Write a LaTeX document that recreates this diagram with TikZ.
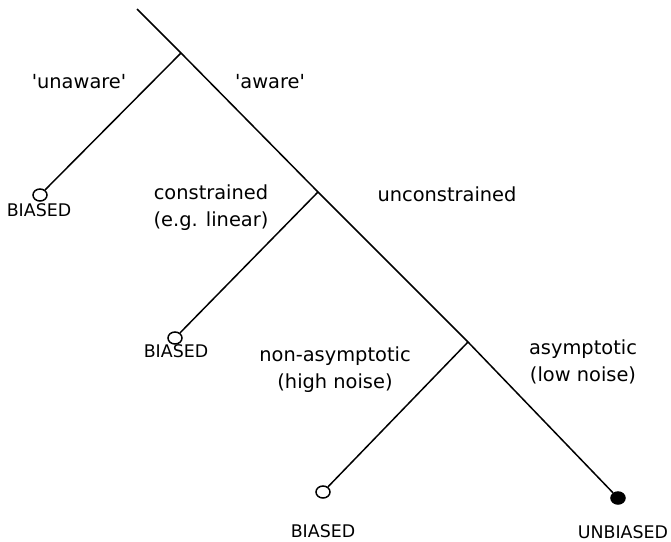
\documentclass[tikz,border=0pt]{standalone}
\usepackage{fontspec}
\setmainfont{DejaVu Sans}
\usetikzlibrary{shapes.geometric}

\begin{document}
\begin{tikzpicture}[x=0.5pt, y=-0.5pt,
    branch/.style={line width=0.75pt},
    openleaf/.style={draw, ellipse, line width=0.75pt, fill=white, inner sep=0pt,
      minimum width=7pt, minimum height=6pt},
    fullleaf/.style={openleaf, fill=black},
    txt/.style={font=\fontsize{9.7}{13.5}\selectfont, align=center, inner sep=0pt},
    outcome/.style={txt, font=\fontsize{8.7}{10}\selectfont}]
                  \useasboundingbox (0,0) rectangle (671,542);

                  % Define points
                  \coordinate (top) at (137,9);
                  \coordinate (J1) at (181,53);
                  \coordinate (J2) at (318,192);
                  \coordinate (J3) at (468,342);

                  % Leaves
                  \node[openleaf] (unaw) at (40,195) {};
                  \node[openleaf] (cons) at (175,338) {};
                  \node[openleaf] (nonas) at (323,492) {};
                  \node[fullleaf] (asym) at (618,498) {};

                  % Draw main stem
                  \draw[branch] (top) -- (J1) -- (J2) -- (J3) -- (asym);

                  % Draw side branches
                  \draw[branch] (J1) -- (unaw);
                  \draw[branch] (J2) -- (cons);
                  \draw[branch] (J3) -- (nonas);

                  % Labels
                  \node[txt] (lunaw) at (79,82) {\textquotesingle unaware\textquotesingle};
                  \node[txt] (law) at (270,82) {\textquotesingle aware\textquotesingle};
                  \node[txt] (lcons) at (211,208) {constrained\\(e.g. linear)};
                  \node[txt] (luncons) at (447,194) {unconstrained};
                  \node[txt] (lnonas) at (335,370) {non-asymptotic\\(high noise)};
                  \node[txt] (lasym) at (583,362) {asymptotic\\(low noise)};

                  % Outcomes
                  \node[outcome] (b1) at (39,210) {BIASED};
                  \node[outcome] (b2) at (176,351) {BIASED};
                  \node[outcome] (b3) at (323,531) {BIASED};
                  \node[outcome] (ub) at (623,532) {UNBIASED};

              \end{tikzpicture}
\end{document}
